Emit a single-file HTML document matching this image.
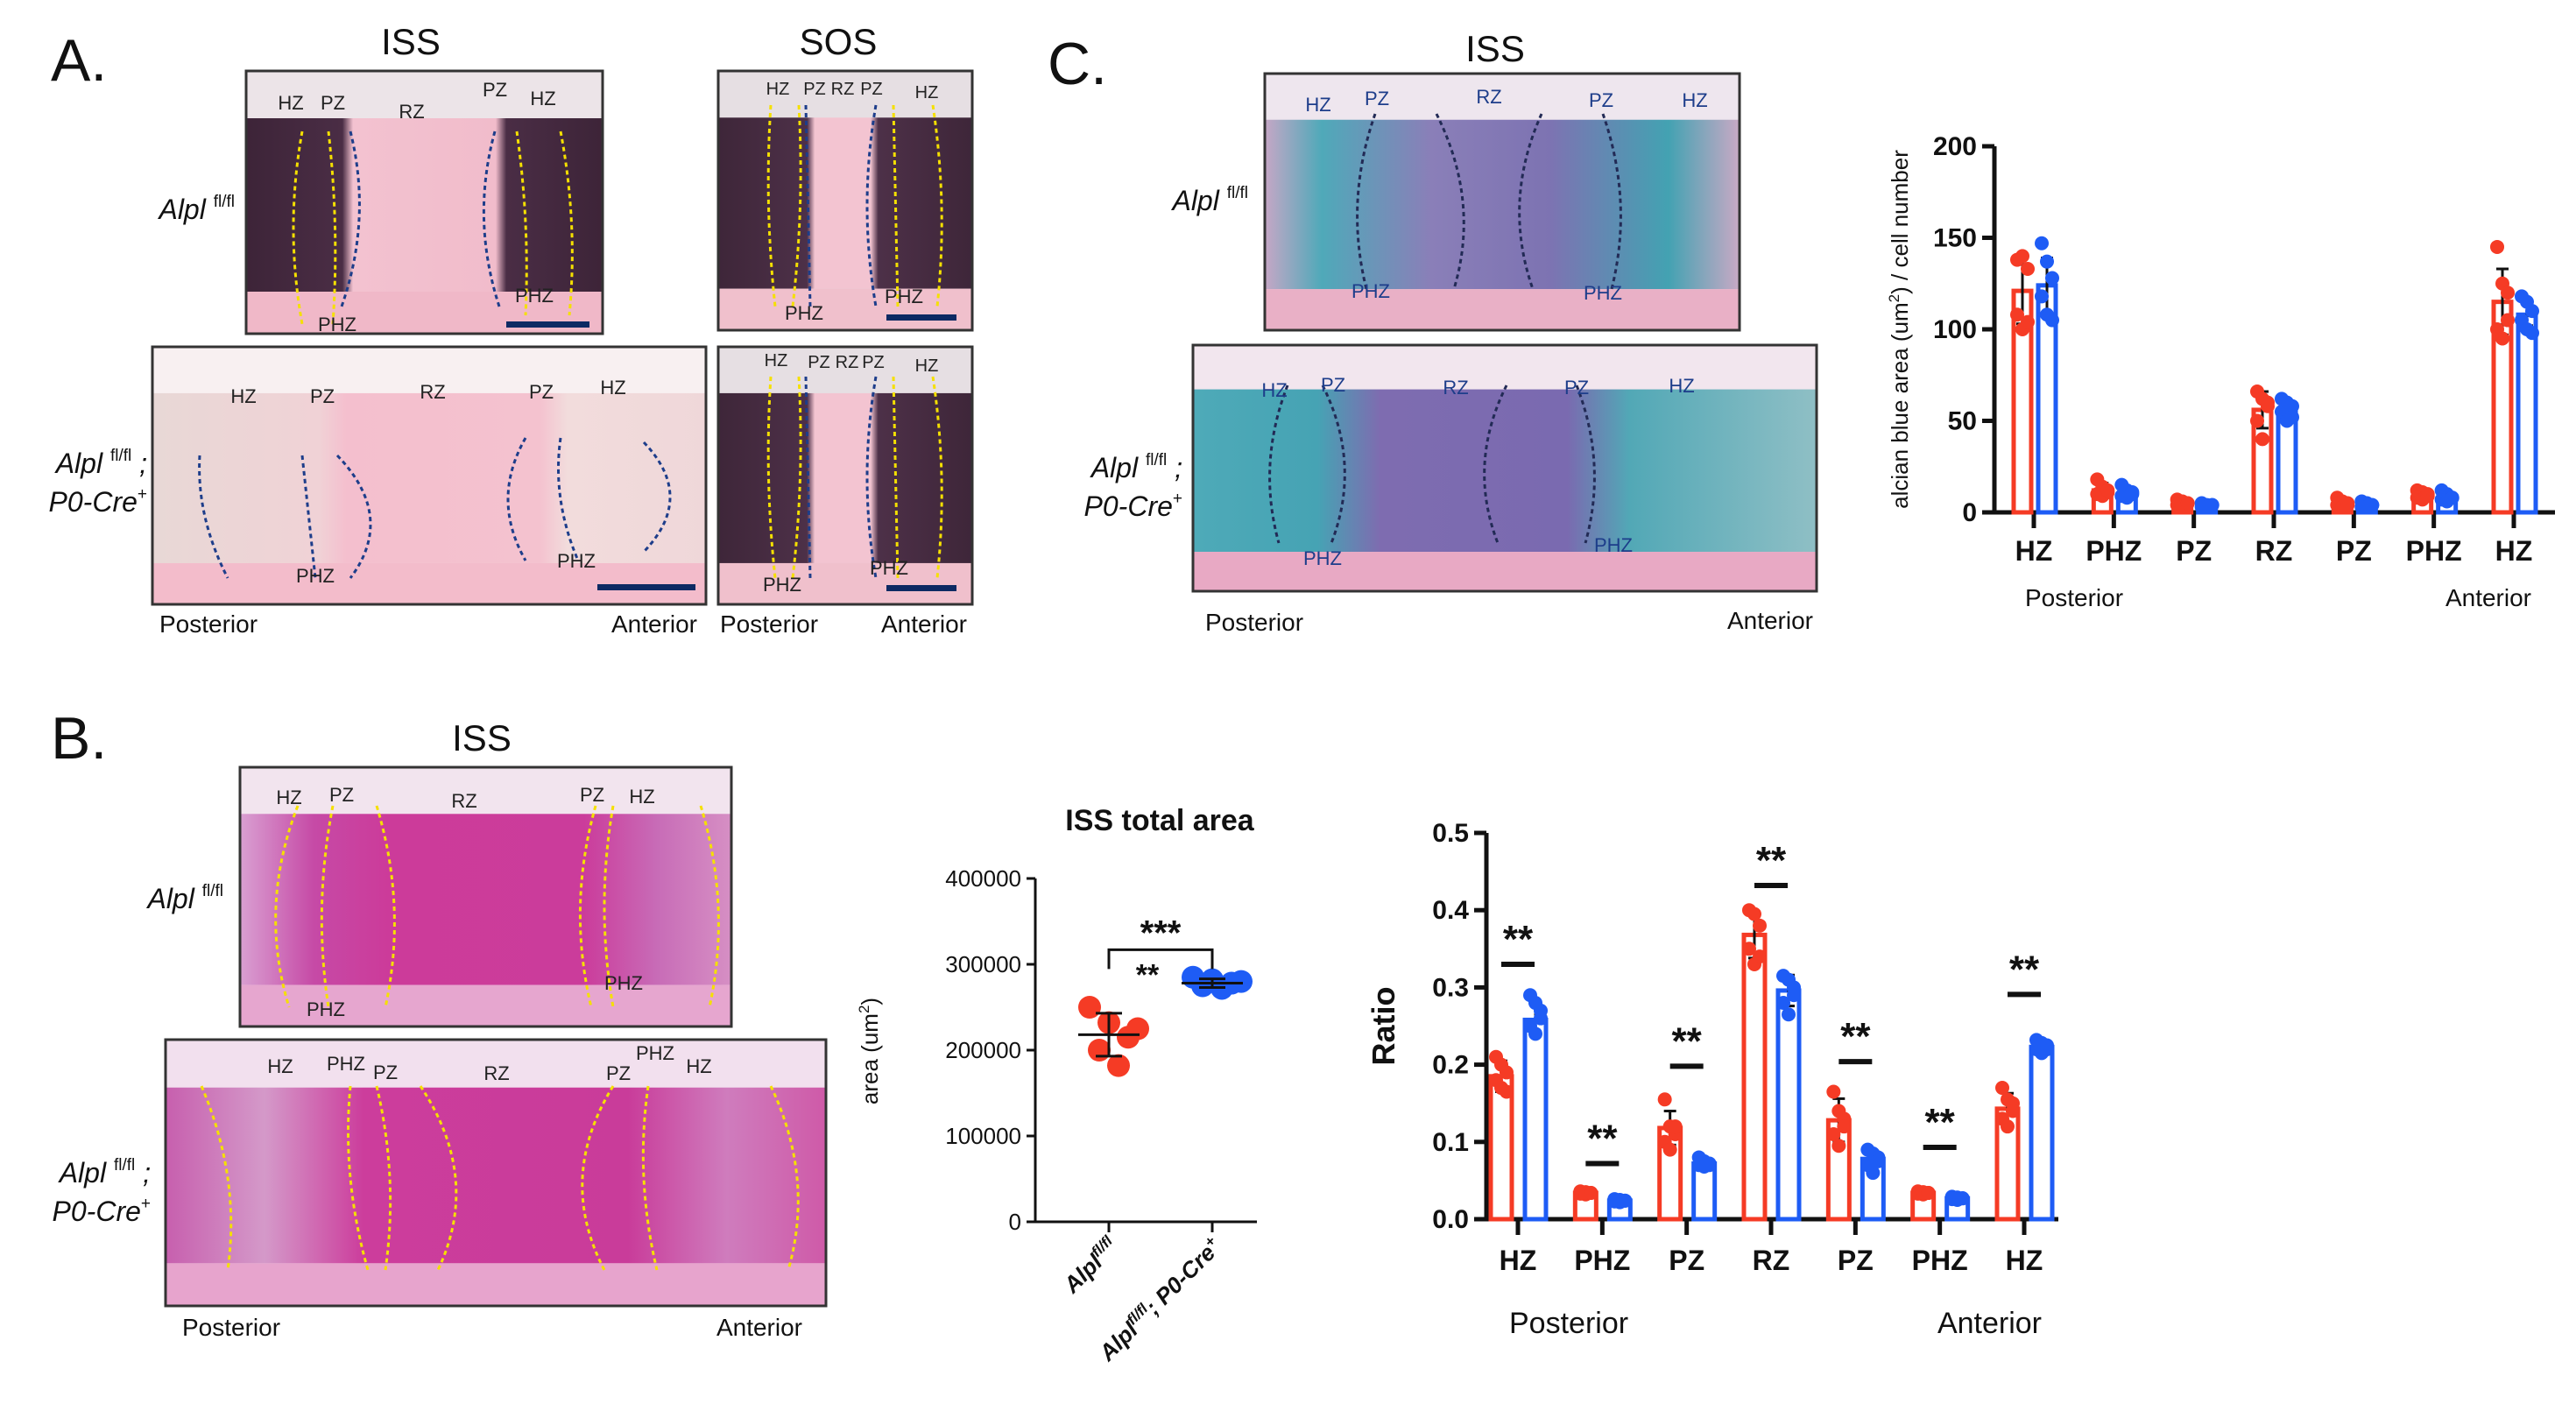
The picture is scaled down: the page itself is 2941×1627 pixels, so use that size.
<!DOCTYPE html>
<html><head><meta charset="utf-8"><style>
html,body{margin:0;padding:0;background:#fff}
svg{display:block}
text{font-family:"Liberation Sans",Arial,sans-serif}
</style></head><body>
<svg id="fig" width="2941" height="1627" viewBox="0 0 2941 1627" xmlns="http://www.w3.org/2000/svg">
<defs>
<linearGradient id="gA1" x1="0" x2="1"><stop offset="0" stop-color="#3d2438"/><stop offset="0.27" stop-color="#4a2d45"/><stop offset="0.3" stop-color="#f3c2d0"/><stop offset="0.7" stop-color="#f1bccb"/><stop offset="0.73" stop-color="#4a2d45"/><stop offset="1" stop-color="#3d2438"/></linearGradient>
<linearGradient id="gA2" x1="0" x2="1"><stop offset="0" stop-color="#e8d8d6"/><stop offset="0.3" stop-color="#f0d2d6"/><stop offset="0.35" stop-color="#f4bfce"/><stop offset="0.7" stop-color="#f4c2cf"/><stop offset="0.75" stop-color="#f2dcdc"/><stop offset="1" stop-color="#efd7d9"/></linearGradient>
<linearGradient id="gS" x1="0" x2="1"><stop offset="0" stop-color="#3e2639"/><stop offset="0.35" stop-color="#4d3048"/><stop offset="0.38" stop-color="#f3c4d1"/><stop offset="0.6" stop-color="#f3c4d1"/><stop offset="0.63" stop-color="#4d3048"/><stop offset="1" stop-color="#3e2639"/></linearGradient>
<linearGradient id="gC1" x1="0" x2="1"><stop offset="0" stop-color="#c6a7c6"/><stop offset="0.12" stop-color="#4fa9b9"/><stop offset="0.35" stop-color="#8a7fb8"/><stop offset="0.6" stop-color="#7d73b2"/><stop offset="0.85" stop-color="#43a2b2"/><stop offset="1" stop-color="#c9a9c5"/></linearGradient>
<linearGradient id="gC2" x1="0" x2="1"><stop offset="0" stop-color="#4eaab8"/><stop offset="0.2" stop-color="#46a3b4"/><stop offset="0.3" stop-color="#7e6cb0"/><stop offset="0.6" stop-color="#7a6ab0"/><stop offset="0.7" stop-color="#52a8b6"/><stop offset="1" stop-color="#8fbfc5"/></linearGradient>
<linearGradient id="gB1" x1="0" x2="1"><stop offset="0" stop-color="#d9a0d2"/><stop offset="0.15" stop-color="#c64aa6"/><stop offset="0.3" stop-color="#cc3b9a"/><stop offset="0.7" stop-color="#cb3c9b"/><stop offset="0.85" stop-color="#c86cb7"/><stop offset="1" stop-color="#d68fc4"/></linearGradient>
<linearGradient id="gB2" x1="0" x2="1"><stop offset="0" stop-color="#c75fae"/><stop offset="0.15" stop-color="#d499c9"/><stop offset="0.3" stop-color="#cc3d9c"/><stop offset="0.7" stop-color="#c93c9a"/><stop offset="0.85" stop-color="#cf7cbd"/><stop offset="1" stop-color="#cf5aa8"/></linearGradient>
</defs>
<g id="panels"></g>
<g id="chartC"></g>
<g id="chartDot"></g>
<g id="chartRatio"></g>
</svg>
<script>
// ---------- Chart C data (alcian blue area / cell number) ----------
const zonesC = ["HZ","PHZ","PZ","RZ","PZ","PHZ","HZ"];
const cRedMean = [121,12,5,56,5,9,115];
const cRedErr = [18,4,2,10,2,2,18];
const cBlueMean = [124,10,4,56,4,8,108];
const cBlueErr = [15,3,1,5,1,2,6];
const cRedPts = [[138,140,133,108,100,104],[18,14,11,10,9,12],[7,6,5,4,3,5],[66,62,60,50,40,58],[8,6,5,4,3,4],[12,11,10,8,7,9],[145,125,120,100,95,105]];
const cBluePts = [[147,137,128,118,108,105],[15,12,10,9,8,11],[5,4,4,3,3,4],[62,60,58,55,50,52],[6,5,4,3,3,4],[12,10,8,7,6,8],[118,115,110,105,100,98]];
const cTicks = [0,50,100,150,200];
// ---------- ISS total area data ----------
const dotGroups = ["Alpl fl/fl","Alpl fl/fl; P0-Cre+"];
const dotRed = [250000,232000,215000,200000,182000,225000];
const dotBlue = [285000,282000,278000,275000,272000,280000];
const dotMeans = [218000,278000];
const dotSD = [25000,5000];
const dotTicks = [0,100000,200000,300000,400000];
// ---------- Ratio data ----------
const zonesR = ["HZ","PHZ","PZ","RZ","PZ","PHZ","HZ"];
const rRedMean = [0.185,0.034,0.118,0.368,0.128,0.034,0.143];
const rRedErr = [0.02,0.003,0.022,0.03,0.028,0.003,0.02];
const rBlueMean = [0.258,0.024,0.072,0.296,0.078,0.027,0.223];
const rBlueErr = [0.02,0.002,0.005,0.02,0.01,0.002,0.006];
const rRedPts = [[0.21,0.2,0.19,0.18,0.17,0.165],[0.036,0.035,0.034,0.033,0.032,0.034],[0.155,0.12,0.11,0.1,0.09,0.12],[0.4,0.395,0.38,0.35,0.33,0.34],[0.165,0.14,0.13,0.11,0.095,0.12],[0.036,0.035,0.034,0.033,0.032,0.034],[0.17,0.155,0.15,0.13,0.12,0.14]];
const rBluePts = [[0.29,0.28,0.27,0.25,0.24,0.26],[0.026,0.025,0.024,0.023,0.022,0.024],[0.08,0.075,0.072,0.07,0.068,0.07],[0.315,0.31,0.3,0.28,0.265,0.29],[0.09,0.085,0.08,0.07,0.06,0.075],[0.029,0.028,0.027,0.026,0.025,0.027],[0.232,0.228,0.225,0.22,0.215,0.22]];
const rSig = [0.33,0.072,0.198,0.432,0.204,0.093,0.291];
const rTicks = [0,0.1,0.2,0.3,0.4,0.5];

const NS="http://www.w3.org/2000/svg";
function mk(parent,tag,attrs,text){const e=document.createElementNS(NS,tag);for(const k in attrs)e.setAttribute(k,attrs[k]);if(text!==undefined)e.textContent=text;parent.appendChild(e);return e;}
const RED="#f53b25", BLUE="#1e5cf5";

// ---------- Histology panels ----------
const P=document.getElementById('panels');
function panel(name,x,y,w,h,grad,top,bot){
  const g=mk(P,'g',{});
  
  
  mk(g,'rect',{x:x,y:y,width:w,height:h,fill:top});
  mk(g,'rect',{x:x,y:y+h*0.18,width:w,height:h*0.66,fill:'url(#'+grad+')'});
  mk(g,'rect',{x:x,y:y+h*0.84,width:w,height:h*0.16,fill:bot});
  mk(g,'rect',{x:x,y:y,width:w,height:h,fill:'none',stroke:'#333',"stroke-width":3});
  return g;
}
function dash(g,x1,y1,x2,y2,bend,col){mk(g,'path',{d:`M${x1},${y1} Q${(x1+x2)/2+bend},${(y1+y2)/2} ${x2},${y2}`,fill:'none',stroke:col,"stroke-width":3,"stroke-dasharray":"5,4"});}
function lbl(g,x,y,t,s,c){const e=mk(g,'text',{x:x,y:y,"font-size":s||22,fill:c||'#222',"text-anchor":'middle'},t);return e;}
function scale(g,x,y,w){mk(g,'rect',{x:x,y:y,width:w,height:7,fill:'#0d2a63'});}

let g;
g=panel('iss-wt-he-image',281,81,407,300,'gA1','#ece4e8','#f0b8c8');
dash(g,400,150,390,350,30,'#1d3d8a');dash(g,565,150,570,350,-30,'#1d3d8a');
dash(g,345,150,345,370,-20,'#f5e000');dash(g,375,150,380,370,10,'#f5e000');dash(g,590,150,600,360,10,'#f5e000');dash(g,640,150,650,360,15,'#f5e000');
lbl(g,332,125,'HZ');lbl(g,380,125,'PZ');lbl(g,470,135,'RZ');lbl(g,565,110,'PZ');lbl(g,620,120,'HZ');lbl(g,610,345,'PHZ');lbl(g,385,378,'PHZ');scale(g,578,367,95);
g=panel('iss-ko-he-image',174,396,632,294,'gA2','#f8f0f1','#f3bccb');
dash(g,228,520,260,660,-20,'#1d3d8a');dash(g,345,520,360,660,0,'#1d3d8a');dash(g,385,520,400,660,60,'#1d3d8a');dash(g,600,500,600,640,-40,'#1d3d8a');dash(g,640,500,660,640,-20,'#1d3d8a');dash(g,735,505,735,630,60,'#1d3d8a');
lbl(g,278,460,'HZ');lbl(g,368,460,'PZ');lbl(g,494,455,'RZ');lbl(g,618,455,'PZ');lbl(g,700,450,'HZ');lbl(g,360,665,'PHZ');lbl(g,658,648,'PHZ');scale(g,682,667,112);
g=panel('sos-wt-he-image',820,81,290,296,'gS','#e6dfe3','#f0c0cc');
dash(g,920,120,925,350,0,'#1d3d8a');dash(g,1000,120,1000,350,-20,'#1d3d8a');dash(g,880,120,885,350,-10,'#f5e000');dash(g,912,120,905,350,10,'#f5e000');dash(g,1020,120,1025,350,0,'#f5e000');dash(g,1065,120,1070,350,15,'#f5e000');
lbl(g,888,108,'HZ',20);lbl(g,930,108,'PZ',20);lbl(g,962,108,'RZ',20);lbl(g,995,108,'PZ',20);lbl(g,1058,112,'HZ',20);lbl(g,918,365,'PHZ');lbl(g,1032,346,'PHZ');scale(g,1012,359,80);
g=panel('sos-ko-he-image',820,396,290,294,'gS','#e6dfe3','#f0c0cc');
dash(g,920,430,925,660,0,'#1d3d8a');dash(g,1000,430,1000,660,-20,'#1d3d8a');dash(g,880,430,885,660,-10,'#f5e000');dash(g,912,430,905,660,10,'#f5e000');dash(g,1020,430,1025,660,0,'#f5e000');dash(g,1065,430,1070,660,15,'#f5e000');
lbl(g,886,418,'HZ',20);lbl(g,935,420,'PZ',20);lbl(g,967,420,'RZ',20);lbl(g,997,420,'PZ',20);lbl(g,1058,424,'HZ',20);lbl(g,893,675,'PHZ');lbl(g,1015,656,'PHZ');scale(g,1012,668,80);
g=panel('iss-wt-alcian-image',1444,84,542,293,'gC1','#eee6ee','#e9b0c6');
dash(g,1570,130,1560,330,-30,'#222a55');dash(g,1640,130,1660,330,40,'#222a55');dash(g,1760,130,1750,330,-40,'#222a55');dash(g,1830,130,1840,330,30,'#222a55');
lbl(g,1505,127,'HZ',22,'#1d3d8a');lbl(g,1572,120,'PZ',22,'#1d3d8a');lbl(g,1700,118,'RZ',22,'#1d3d8a');lbl(g,1828,122,'PZ',22,'#1d3d8a');lbl(g,1935,122,'HZ',22,'#1d3d8a');lbl(g,1565,340,'PHZ',22,'#1d3d8a');lbl(g,1830,342,'PHZ',22,'#1d3d8a');
g=panel('iss-ko-alcian-image',1362,394,712,281,'gC2','#f2e6ee','#e8a9c4');
dash(g,1470,440,1460,620,-30,'#222a55');dash(g,1510,440,1520,620,40,'#222a55');dash(g,1720,440,1710,620,-40,'#222a55');dash(g,1800,440,1810,620,30,'#222a55');
lbl(g,1455,453,'HZ',22,'#1d3d8a');lbl(g,1522,447,'PZ',22,'#1d3d8a');lbl(g,1662,450,'RZ',22,'#1d3d8a');lbl(g,1800,450,'PZ',22,'#1d3d8a');lbl(g,1920,448,'HZ',22,'#1d3d8a');lbl(g,1510,645,'PHZ',22,'#1d3d8a');lbl(g,1842,630,'PHZ',22,'#1d3d8a');
g=panel('iss-wt-he2-image',274,876,561,296,'gB1','#f2e4ee','#e6a6cf');
dash(g,340,920,330,1150,-40,'#f5e000');dash(g,380,920,375,1150,-20,'#f5e000');dash(g,430,920,440,1150,30,'#f5e000');dash(g,680,920,675,1150,-30,'#f5e000');dash(g,700,920,700,1150,-20,'#f5e000');dash(g,800,920,810,1150,30,'#f5e000');
lbl(g,330,918,'HZ');lbl(g,390,915,'PZ');lbl(g,530,922,'RZ');lbl(g,676,915,'PZ');lbl(g,733,917,'HZ');lbl(g,372,1160,'PHZ');lbl(g,712,1130,'PHZ');
g=panel('iss-ko-he2-image',189,1187,754,304,'gB2','#f2e0ee','#e7a4cd');
dash(g,230,1240,260,1450,30,'#f5e000');dash(g,400,1240,420,1450,-20,'#f5e000');dash(g,430,1240,440,1450,20,'#f5e000');dash(g,480,1240,500,1450,60,'#f5e000');dash(g,700,1240,690,1450,-60,'#f5e000');dash(g,740,1240,750,1450,-20,'#f5e000');dash(g,880,1240,900,1450,40,'#f5e000');
lbl(g,320,1225,'HZ');lbl(g,395,1222,'PHZ');lbl(g,440,1232,'PZ');lbl(g,567,1233,'RZ');lbl(g,706,1233,'PZ');lbl(g,748,1210,'PHZ');lbl(g,798,1225,'HZ');

// panel titles & side labels
const T=P;
function txt(name,x,y,t,size,anchor,extra){const e=mk(T,'text',Object.assign({x:x,y:y,"font-size":size,"text-anchor":anchor||'start',fill:'#111'},extra||{}),t);return e;}
txt('panel-a-label',58,92,'A.',68);txt('panel-b-label',58,866,'B.',68);txt('panel-c-label',1196,96,'C.',68);
txt('iss-title-a',469,62,'ISS',42,'middle');txt('sos-title-a',957,62,'SOS',42,'middle');txt('iss-title-c',1707,70,'ISS',42,'middle');txt('iss-title-b',550,857,'ISS',42,'middle');
function geno(name,x,y,ko){const e=mk(T,'text',{x:x,y:y,"font-size":32,"text-anchor":'end',"font-style":'italic',fill:'#111'});
 e.innerHTML='Alpl <tspan font-size="19" dy="-14" font-style="normal">fl/fl</tspan>'+(ko?'<tspan dy="14"> ;</tspan>':'');
 if(ko){const f=mk(T,'text',{x:x,y:y+44,"font-size":32,"text-anchor":'end',"font-style":'italic',fill:'#111'});f.innerHTML='P0-Cre<tspan font-size="19" dy="-14" font-style="normal">+</tspan>';}}
geno('genotype-wt-a',268,250,false);geno('genotype-ko-a',168,540,true);
geno('genotype-wt-c',1425,240,false);geno('genotype-ko-c',1350,545,true);
geno('genotype-wt-b',255,1037,false);geno('genotype-ko-b',172,1350,true);
txt('posterior-a1',182,722,'Posterior',28);txt('anterior-a1',796,722,'Anterior',28,'end');
txt('posterior-a2',822,722,'Posterior',28);txt('anterior-a2',1104,722,'Anterior',28,'end');
txt('posterior-c',1376,720,'Posterior',28);txt('anterior-c',2070,718,'Anterior',28,'end');
txt('posterior-b',208,1525,'Posterior',28);txt('anterior-b',916,1525,'Anterior',28,'end');

// ---------- generic grouped bar chart ----------
function barChart(gid,o){
  const G=document.getElementById(gid);
  const y=v=>o.y0-(v-o.min)/(o.max-o.min)*(o.y0-o.y1);
  mk(G,'line',{x1:o.ax,y1:o.y0,x2:o.xe,y2:o.y0,stroke:'#111',"stroke-width":5});
  mk(G,'line',{x1:o.ax,y1:o.y0+2,x2:o.ax,y2:o.y1,stroke:'#111',"stroke-width":5});
  o.ticks.forEach((t,i)=>{const yy=y(t);mk(G,'line',{x1:o.ax-14,y1:yy,x2:o.ax,y2:yy,stroke:'#111',"stroke-width":5});
    const e=mk(G,'text',{x:o.ax-20,y:yy+10,"font-size":30,"font-weight":'bold',"text-anchor":'end',fill:'#111'},o.fmt(t));
    });
  const step=(o.xlast-o.xfirst)/(o.cats.length-1);
  o.cats.forEach((c,i)=>{const cx=o.xfirst+i*step;
    mk(G,'line',{x1:cx,y1:o.y0,x2:cx,y2:o.y0+18,stroke:'#111',"stroke-width":5});
    const l=mk(G,'text',{x:cx,y:o.ly,"font-size":32,"font-weight":'bold',"text-anchor":'middle',fill:'#111'},c);
    
    [[o.rm,o.re,o.rp,RED,o.offR],[o.bm,o.be,o.bp,BLUE,o.offB]].forEach(([m,er,pts,col,off],k)=>{
      const bx=cx+off;
      const b=mk(G,'rect',{x:bx-o.bw/2,y:y(m[i]),width:o.bw,height:o.y0-y(m[i]),fill:'#fff',stroke:col,"stroke-width":5});
      
      mk(G,'line',{x1:bx,y1:y(m[i]-er[i]),x2:bx,y2:y(m[i]+er[i]),stroke:'#111',"stroke-width":3});
      mk(G,'line',{x1:bx-7,y1:y(m[i]+er[i]),x2:bx+7,y2:y(m[i]+er[i]),stroke:'#111',"stroke-width":3});
      mk(G,'line',{x1:bx-7,y1:y(m[i]-er[i]),x2:bx+7,y2:y(m[i]-er[i]),stroke:'#111',"stroke-width":3});
      pts[i].forEach((p,j)=>{const d=mk(G,'circle',{cx:bx+(j%3-1)*6,cy:y(p),r:8,fill:col});
        });
    });
    if(o.sig){const sy=y(o.sig[i]);mk(G,'line',{x1:cx-19,y1:sy,x2:cx+19,y2:sy,stroke:'#111',"stroke-width":6});
      const s=mk(G,'text',{x:cx,y:sy-14,"font-size":44,"font-weight":'bold',"text-anchor":'middle',fill:'#111'},'**');
      }
  });
  const yl=mk(G,'text',{x:o.ylx,y:(o.y0+o.y1)/2,"font-size":o.ylSize,"font-weight":o.ylWeight,"text-anchor":'middle',fill:'#111',transform:`rotate(-90 ${o.ylx} ${(o.y0+o.y1)/2})`});
  yl.innerHTML=o.ylabel;
  const p=mk(G,'text',{x:o.xfirst-10,y:o.py,"font-size":o.pSize,"text-anchor":'start',fill:'#111'},'Posterior');
  const a=mk(G,'text',{x:o.xlast+20,y:o.py,"font-size":o.pSize,"text-anchor":'end',fill:'#111'},'Anterior');
}
barChart('chartC',{ax:2277,xe:2917,y0:585,y1:167,min:0,max:200,ticks:cTicks,fmt:t=>String(t),cats:zonesC,xfirst:2322,xlast:2870,ly:640,bw:20,offR:-13,offB:15,
  rm:cRedMean,re:cRedErr,rp:cRedPts,bm:cBlueMean,be:cBlueErr,bp:cBluePts,ylx:2178,ylabel:'alcian blue area (um<tspan font-size="17" dy="-10">2</tspan><tspan dy="10">) / cell number</tspan>',ylSize:26,ylWeight:'normal',py:692,pSize:28});
barChart('chartRatio',{ax:1697,xe:2350,y0:1392,y1:951,min:0,max:0.5,ticks:rTicks,fmt:t=>t.toFixed(1),cats:zonesR,xfirst:1733,xlast:2311,ly:1450,bw:24,offR:-19,offB:20,
  rm:rRedMean,re:rRedErr,rp:rRedPts,bm:rBlueMean,be:rBlueErr,bp:rBluePts,sig:rSig,ylx:1592,ylabel:'Ratio',ylSize:36,ylWeight:'bold',py:1522,pSize:34});

// ---------- ISS total area dot plot ----------
(function(){
  const G=document.getElementById('chartDot');
  const ax=1182,y0=1395,y1=1003,xe=1435;
  const y=v=>y0-v/400000*(y0-y1);
  const gx=[1266,1384];
  mk(G,'line',{x1:ax,y1:y0,x2:xe,y2:y0,stroke:'#111',"stroke-width":3});
  mk(G,'line',{x1:ax,y1:y0,x2:ax,y2:y1,stroke:'#111',"stroke-width":3});
  dotTicks.forEach(t=>{const yy=y(t);mk(G,'line',{x1:ax-10,y1:yy,x2:ax,y2:yy,stroke:'#111',"stroke-width":3});
    const e=mk(G,'text',{x:ax-16,y:yy+9,"font-size":26,"text-anchor":'end',fill:'#111'},String(t));});
  gx.forEach(x=>mk(G,'line',{x1:x,y1:y0,x2:x,y2:y0+12,stroke:'#111',"stroke-width":3}));
  [[dotRed,RED],[dotBlue,BLUE]].forEach(([pts,col],k)=>{
    pts.forEach((p,j)=>{const d=mk(G,'circle',{cx:gx[k]+((j%3)-1)*22+(j>2?11:0),cy:y(p),r:13,fill:col});
      });
    mk(G,'line',{x1:gx[k]-35,y1:y(dotMeans[k]),x2:gx[k]+35,y2:y(dotMeans[k]),stroke:'#111',"stroke-width":3});
    mk(G,'line',{x1:gx[k],y1:y(dotMeans[k]-dotSD[k]),x2:gx[k],y2:y(dotMeans[k]+dotSD[k]),stroke:'#111',"stroke-width":3});
    mk(G,'line',{x1:gx[k]-15,y1:y(dotMeans[k]+dotSD[k]),x2:gx[k]+15,y2:y(dotMeans[k]+dotSD[k]),stroke:'#111',"stroke-width":3});
    mk(G,'line',{x1:gx[k]-15,y1:y(dotMeans[k]-dotSD[k]),x2:gx[k]+15,y2:y(dotMeans[k]-dotSD[k]),stroke:'#111',"stroke-width":3});
  });
  const by=y(317000);
  mk(G,'path',{d:`M${gx[0]},${by+22} V${by} H${gx[1]} V${by+22}`,fill:'none',stroke:'#111',"stroke-width":3});
  let s=mk(G,'text',{x:(gx[0]+gx[1])/2,y:by-6,"font-size":40,"font-weight":'bold',"text-anchor":'middle',fill:'#111'},'***');
  s=mk(G,'text',{x:(gx[0]+gx[1])/2-15,y:by+40,"font-size":34,"font-weight":'bold',"text-anchor":'middle',fill:'#111'},'**');
  const t=mk(G,'text',{x:1324,y:948,"font-size":34,"font-weight":'bold',"text-anchor":'middle',fill:'#111'},'ISS total area');
  const yl=mk(G,'text',{x:1002,y:1200,"font-size":26,"text-anchor":'middle',fill:'#111',transform:'rotate(-90 1002 1200)'});
  yl.innerHTML='area (um<tspan font-size="17" dy="-10">2</tspan><tspan dy="10">)</tspan>';
  const l1=mk(G,'text',{x:gx[0]+12,y:y0+30,"font-size":26,"font-weight":'bold',"font-style":'italic',"text-anchor":'end',fill:'#111',transform:`rotate(-45 ${gx[0]+12} ${y0+30})`});
  l1.innerHTML='Alpl<tspan font-size="17" dy="-10">fl/fl</tspan>';
  const l2=mk(G,'text',{x:gx[1]+12,y:y0+30,"font-size":26,"font-weight":'bold',"font-style":'italic',"text-anchor":'end',fill:'#111',transform:`rotate(-45 ${gx[1]+12} ${y0+30})`});
  l2.innerHTML='Alpl<tspan font-size="17" dy="-10">fl/fl</tspan><tspan dy="10">; P0-Cre</tspan><tspan font-size="17" dy="-10">+</tspan>';
})();
</script>
</body></html>
